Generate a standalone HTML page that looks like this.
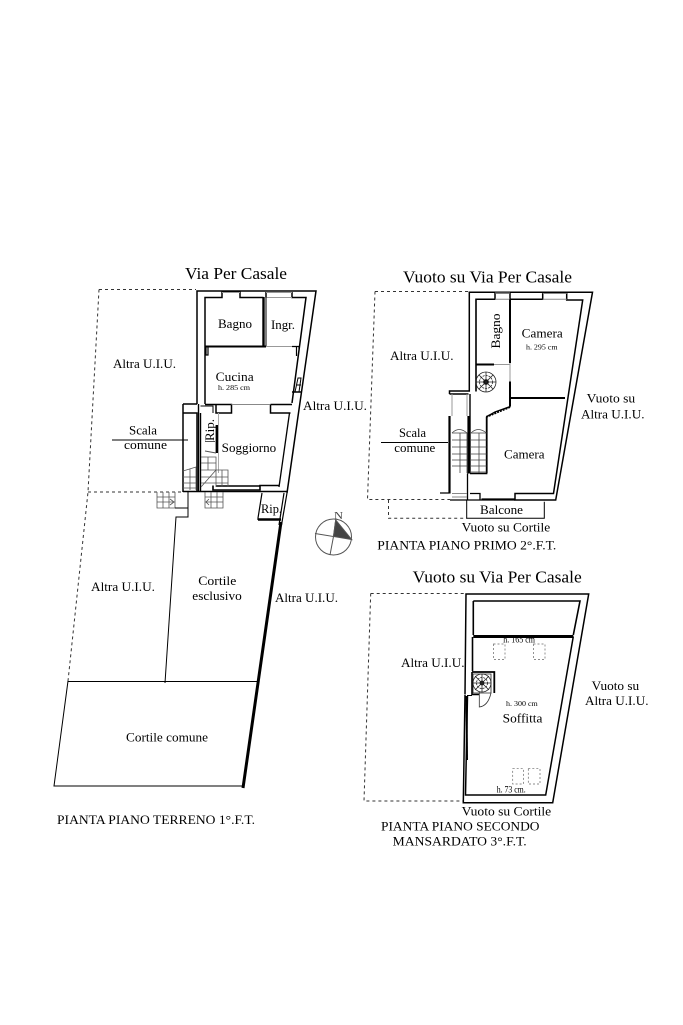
<!DOCTYPE html>
<html lang="it">
<head>
<meta charset="utf-8">
<title>Planimetria</title>
<style>
html,body{margin:0;padding:0;background:#fff}
svg{display:block;position:absolute;left:0;top:0}
text{font-family:"Liberation Serif",serif;fill:#000}
.t{font-size:17px}.m{font-size:13px}.s{font-size:7px}.x{font-size:9px}
</style>
</head>
<body>
<svg width="683" height="1025" viewBox="0 0 683 1025" xmlns="http://www.w3.org/2000/svg" fill="none" stroke="#000" stroke-width="1">

<!-- GROUND FLOOR -->
<g stroke="#333" stroke-dasharray="3 3">
<path d="M99,289.500H196M99,289.500L88,492L68,681M88,492H182"/>
</g>
<path d="M197,404V291H316L287,493M205,404V297.500H222V292H240V297.500H263.500M266,297.500V292M292,292V297.500H306L292,403" stroke-width="1.500"/>
<path d="M222,292.500H240M266,292.500H292M266,297.500H292" stroke="#999"/>
<path d="M263.500,297V346" stroke-width="2.400"/>
<path d="M266,297V346" stroke-width="1"/>
<path d="M205.500,346.500H266" stroke-width="2"/>
<path d="M266,346.500H292" stroke="#999"/>
<path d="M292,346.500H299V349M296.500,347V356M206,347V355H208V347" stroke-width="1.200"/>
<path d="M298,378L301,378L299,392H295ZM297,385H301" stroke-width="1"/>
<path d="M292,392H301" stroke-width="1.500"/>
<path d="M183,404H197M205,404.500H231.500V413H216V404.500M270.500,404.500V413H290.500M270.500,404.500H292" stroke-width="1.500"/>
<path d="M231.500,404.500H270.500" stroke="#888"/>
<path d="M183,404V492M183,413H197V492" stroke-width="1.500"/>
<path d="M198.500,404V492M200.500,413V492" stroke-width="1.400"/>
<path d="M200.500,406H213V413" stroke-width="1"/>
<path d="M216.800,425V453" stroke-width="2.400"/>
<path d="M205,441.500H215M205,451L216,453" stroke="#555"/>
<path d="M218.500,413V473" stroke="#aaa"/>
<path d="M289.500,413L279,487" stroke-width="1.300"/>
<path d="M213,485.500V490H260V485.500H279M216,486H260" stroke-width="1.600"/>
<path d="M183,491.500H287" stroke-width="1.500"/>
<g stroke="#555" stroke-width=".8">
<path d="M201,457H216V470H228V487M201,463H216M201,470H216M201,477H228M201,483H228M208,457V470M216,470V487M222,470V487M201,487L216,470"/>
<path d="M183,471L196,467V490M183,477H196M183,483H196M183,488H196M190,469V490"/>
<path d="M157,492V508H175V492M157,497H175M157,502H175M163,492V508M169,492V508M170,499L174,502L170,505"/>
<path d="M205,492V508H223V492M205,497H223M205,502H223M211,492V508M217,492V508M209,499L206,502L209,505"/>
</g>
<path d="M175,508H188M188,492V517H176L165,683" stroke-width="1"/>
<path d="M262,493L258,518V520" stroke-width="1.200"/>
<path d="M258,519.500H281" stroke-width="2.600"/>
<path d="M284,493L279,525M287,493L281.500,525" stroke-width="1.200"/>
<path d="M281,522L243,788" stroke-width="3"/>
<path d="M68,681L54,786H243M68,681.500H257" stroke-width="1"/>

<!-- COMPASS -->
<g stroke="#555">
<circle cx="333.500" cy="537" r="18"/>
<path d="M315,533.500L333.500,536.500L330,555M335.700,520L333.500,536.500"/>
<path d="M335.700,520L351.700,539.500L333.500,536.500Z" fill="#444"/>
</g>

<!-- FIRST FLOOR -->
<path d="M375,291.500H469M375,291.500L367.500,499.500H450" stroke="#333" stroke-dasharray="3 3"/>
<path d="M388.500,500V518.300H466.500" stroke="#333" stroke-dasharray="3 3"/>
<path d="M449.500,394V391H469.300V292.300H592.500L555.700,500H515V493.500H553.500L582.700,300H566.700V293H542.700V299.300H510V293H495V299.300H476V391.500" stroke-width="1.500"/>
<path d="M495,293H510M542.700,293.500H566.700M542.700,299.300H566.700M495,299.300H510" stroke="#888"/>
<path d="M449.500,394H468.500" stroke-width="1.400"/>
<path d="M449.500,416V493.500M468.500,416V473.500" stroke-width="2.200"/>
<path d="M452,394V416M467,394V416" stroke="#999"/>
<path d="M470,394V473.500M470,473.500H486.700V416.700L495,412L510,406.700" stroke-width="1.400"/>
<path d="M486.700,416.700V473" stroke-width="1.800"/>
<path d="M510,299.300V363M510,381.500V398.500" stroke-width="2"/>
<path d="M510,363V381.500" stroke="#999"/>
<path d="M476,299.300V391.500" stroke-width="1.200"/>
<path d="M476,364.500H494M510,398H565" stroke-width="2"/>
<path d="M494,364.500H510" stroke="#999"/>
<path d="M510,398V406.700" stroke-width="2"/>
<path d="M510,407L486.700,416.700" stroke-width="2" stroke-dasharray="2 1"/>
<path d="M440,493H449.500M467.500,473.500V500H515M470,493.500H480V499.500M450,500H467.500M481.500,499H515" stroke-width="1.300"/>
<path d="M452,497H467M452,493.500H467" stroke="#888"/>
<path d="M466.700,500V518.300H544.300V501.700" stroke-width="1"/>
<g stroke="#444" stroke-width=".8">
<path d="M452,433H467V473M452,440H467M452,447H467M452,454H467M452,460H467M452,466H467M460,433V473"/>
<path d="M471,433H486.500M471,440H486.500M471,447H486.500M471,454H486.500M471,460H486.500M471,466H486.500M471,472H486.500M479,433V473"/>
<path d="M452,433Q459,426 467,433M471,433Q478,426 486.500,433"/>
</g>
<path d="M381,442.500H448" stroke-width="1"/>
<g stroke="#222" stroke-width=".8">
<circle cx="486" cy="382" r="10"/><circle cx="486" cy="382" r="6.500" stroke-dasharray="2 1"/><circle cx="486" cy="382" r="2.500" fill="#000"/>
<path d="M476,382H496M486,372V392M479,375L493,389M493,375L479,389"/>
</g>

<!-- SECOND FLOOR -->
<path d="M370.700,593.500H466M370.700,593.500L364,801H463" stroke="#333" stroke-dasharray="3 3"/>
<path d="M465,694.500L466,594H588.700L552.700,802.700H463.300L465,695" stroke-width="1.500"/>
<path d="M473.300,601H580L573.300,635M473.300,601V635" stroke-width="1.600"/>
<path d="M473.300,636.500H573.300" stroke-width="3"/>
<path d="M573.300,636.500L545.700,795H465.500L467.500,696" stroke-width="1.500"/>
<path d="M467,760L466.500,696" stroke-width="2"/>
<path d="M467,695.500H472" stroke-width="1"/>
<path d="M472.500,637V671" stroke-width="1.600"/>
<path d="M472,672H494.300V693" stroke-width="1.800"/>
<path d="M472,672V694.500H479" stroke-width="1.600"/>
<g stroke="#222" stroke-width=".8">
<circle cx="482" cy="683" r="9"/><circle cx="482" cy="683" r="5.500" stroke-dasharray="2 1"/><circle cx="482" cy="683" r="2" fill="#000"/>
<path d="M473,674H491V693H473ZM473,683H491M482,674V692M475,676L489,690M489,676L475,690"/>
</g>
<path d="M479.300,692V707Q488,706 491,693" stroke="#333" stroke-width=".8"/>
<g stroke="#666" stroke-width=".7" stroke-dasharray="2 2">
<rect x="493.500" y="644" width="11.500" height="15.500"/>
<rect x="533.500" y="644" width="11.500" height="15.500"/>
<rect x="512.700" y="768.700" width="10.800" height="15.300"/>
<rect x="528.300" y="768.700" width="11.700" height="15.300"/>
</g>

<!-- TEXT -->
<g stroke="none">
<text class="t" x="185" y="279" textLength="102" lengthAdjust="spacingAndGlyphs">Via Per Casale</text>
<text class="m" x="218" y="328" textLength="34" lengthAdjust="spacingAndGlyphs">Bagno</text>
<text class="m" x="271" y="329" textLength="24" lengthAdjust="spacingAndGlyphs">Ingr.</text>
<text class="m" x="113" y="368" textLength="63" lengthAdjust="spacingAndGlyphs">Altra U.I.U.</text>
<text class="m" x="215.700" y="381" textLength="38" lengthAdjust="spacingAndGlyphs">Cucina</text>
<text class="s" x="218" y="390" textLength="32" lengthAdjust="spacingAndGlyphs">h. 285 cm</text>
<text class="m" x="303" y="410" textLength="64" lengthAdjust="spacingAndGlyphs">Altra U.I.U.</text>
<text class="m" x="129" y="434.500" textLength="28" lengthAdjust="spacingAndGlyphs">Scala</text>
<text class="m" x="124" y="449" textLength="43" lengthAdjust="spacingAndGlyphs">comune</text>
<path d="M112,440H188" stroke="#000" stroke-width="1"/>
<text class="m" transform="translate(214,441) rotate(-90)" textLength="22" lengthAdjust="spacingAndGlyphs">Rip.</text>
<text class="m" x="221.700" y="452" textLength="54.500" lengthAdjust="spacingAndGlyphs">Soggiorno</text>
<text class="m" x="261" y="513" textLength="21" lengthAdjust="spacingAndGlyphs">Rip.</text>
<text class="m" x="91" y="591" textLength="64" lengthAdjust="spacingAndGlyphs">Altra U.I.U.</text>
<text class="m" x="198.300" y="585" textLength="38" lengthAdjust="spacingAndGlyphs">Cortile</text>
<text class="m" x="192.300" y="600" textLength="49.500" lengthAdjust="spacingAndGlyphs">esclusivo</text>
<text class="m" x="275" y="602" textLength="63" lengthAdjust="spacingAndGlyphs">Altra U.I.U.</text>
<text class="m" x="126" y="741.700" textLength="82" lengthAdjust="spacingAndGlyphs">Cortile comune</text>
<text class="m" x="57" y="824" textLength="198" lengthAdjust="spacingAndGlyphs">PIANTA PIANO TERRENO 1°.F.T.</text>
<text x="334" y="519" style="font-size:11px;fill:#444" textLength="9" lengthAdjust="spacingAndGlyphs">N</text>

<text class="t" x="403" y="282.500" textLength="169" lengthAdjust="spacingAndGlyphs">Vuoto su Via Per Casale</text>
<text class="m" transform="translate(500,348.500) rotate(-90)" textLength="35" lengthAdjust="spacingAndGlyphs">Bagno</text>
<text class="m" x="521.700" y="337.500" textLength="41" lengthAdjust="spacingAndGlyphs">Camera</text>
<text class="s" x="526" y="349.500" textLength="31.500" lengthAdjust="spacingAndGlyphs">h. 295 cm</text>
<text class="m" x="390" y="360" textLength="63.500" lengthAdjust="spacingAndGlyphs">Altra U.I.U.</text>
<text class="m" x="586.700" y="402.700" textLength="48.500" lengthAdjust="spacingAndGlyphs">Vuoto su</text>
<text class="m" x="581" y="418.300" textLength="63.500" lengthAdjust="spacingAndGlyphs">Altra U.I.U.</text>
<text class="m" x="399" y="437" textLength="27" lengthAdjust="spacingAndGlyphs">Scala</text>
<text class="m" x="394.300" y="452" textLength="41" lengthAdjust="spacingAndGlyphs">comune</text>
<text class="m" x="504" y="458.500" textLength="40.500" lengthAdjust="spacingAndGlyphs">Camera</text>
<text class="m" x="480" y="514" textLength="43" lengthAdjust="spacingAndGlyphs">Balcone</text>
<text class="m" x="461.700" y="531.700" textLength="88.500" lengthAdjust="spacingAndGlyphs">Vuoto su Cortile</text>
<text class="m" x="377.300" y="549.500" textLength="179" lengthAdjust="spacingAndGlyphs">PIANTA PIANO PRIMO 2°.F.T.</text>

<text class="t" x="412.700" y="582.700" textLength="169" lengthAdjust="spacingAndGlyphs">Vuoto su Via Per Casale</text>
<text class="x" x="503.300" y="642.500" textLength="31.700" lengthAdjust="spacingAndGlyphs">h. 165 cm</text>
<text class="m" x="401" y="667" textLength="63.500" lengthAdjust="spacingAndGlyphs">Altra U.I.U.</text>
<text class="m" x="591.700" y="690" textLength="47.500" lengthAdjust="spacingAndGlyphs">Vuoto su</text>
<text class="m" x="585" y="705" textLength="63.500" lengthAdjust="spacingAndGlyphs">Altra U.I.U.</text>
<text class="s" x="506" y="706" textLength="31.700" lengthAdjust="spacingAndGlyphs">h. 300 cm</text>
<text class="m" x="502.700" y="722.500" textLength="39.700" lengthAdjust="spacingAndGlyphs">Soffitta</text>
<text class="x" x="496.700" y="792.500" textLength="29" lengthAdjust="spacingAndGlyphs">h. 73 cm.</text>
<text class="m" x="461.700" y="815.700" textLength="89.500" lengthAdjust="spacingAndGlyphs">Vuoto su Cortile</text>
<text class="m" x="381" y="830.700" textLength="158.500" lengthAdjust="spacingAndGlyphs">PIANTA PIANO SECONDO</text>
<text class="m" x="392.700" y="845.700" textLength="134" lengthAdjust="spacingAndGlyphs">MANSARDATO 3°.F.T.</text>
</g>
</svg>
</body>
</html>
